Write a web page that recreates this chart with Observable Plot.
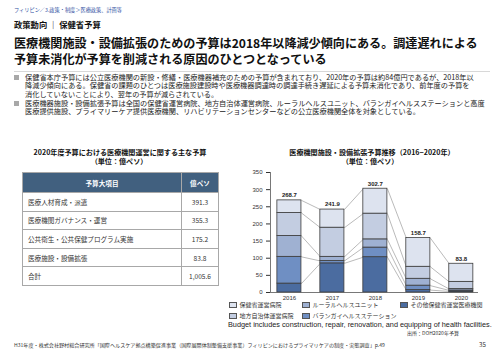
<!DOCTYPE html>
<html><head><meta charset="utf-8">
<script src="https://cdn.jsdelivr.net/npm/d3@7"></script>
<script src="https://cdn.jsdelivr.net/npm/@observablehq/plot@0.6"></script>
<style>
body{margin:0;background:#fff;}
#page{position:relative;width:500px;height:353px;overflow:hidden;font-family:"Noto Sans CJK JP","Noto Sans",sans-serif;color:#111;}
.a{position:absolute;white-space:nowrap;}
#tbl{position:absolute;left:22px;top:172px;width:196px;border-collapse:collapse;table-layout:fixed;font-size:6.6px;color:#333;}
#tbl td,#tbl th{border:1px solid #a8a8a8;padding:0;}
#tbl th{background:#41607f;color:#fff;font-weight:700;height:19px;text-align:center;}
#tbl td{height:17.6px;}
#tbl td.l{padding-left:5px;}
#tbl td.r{text-align:center;}
.box{position:absolute;width:8px;height:6px;border:0.8px solid #555;box-sizing:border-box;}
</style></head><body><div id="page"></div>
<script>
// ---- data ----
const years = [2016, 2017, 2018, 2019, 2020];
const categories = ["その他保健省運営医療機関", "バランガイヘルスステーション", "ルーラルヘルスユニット", "地方自治体運営病院", "保健省運営病院"];
const otherDOH = [26, 85, 103, 7, 3];
const barangay = [78, 7, 28, 13, 3];
const rural = [61, 12, 24, 20, 4];
const lgu = [67, 85, 75, 35, 21];
const dohHosp = [36.7, 52.9, 72.7, 83.7, 52.8];
const totals = [268.7, 241.9, 302.7, 158.7, 83.8];
const colors = ["#4b6ca0", "#6f8fc3", "#9fb1d2", "#c3cde1", "#dde3ef"];

const tableHeader = ["予算大項目", "億ペソ"];
const tableItems = ["医療人材育成・派遣", "医療機関ガバナンス・運営", "公共衛生・公共保健プログラム実施", "医療施設・設備拡張", "合計"];
const tableValues = ["391.3", "355.3", "175.2", "83.8", "1,005.6"];

const bullets = [
  ["保健省本庁予算には公立医療機関の新設・修繕・医療機器補充のための予算が含まれており、2020年の予算は約84億円であるが、2018年以",
   "降減少傾向にある。保健省の課題のひとつは医療施設建設時や医療機器調達時の調達手続き遅延による予算未消化であり、前年度の予算を",
   "消化していないことにより、翌年の予算が減らされている。"],
  ["医療機器施設・設備拡張予算は全国の保健省運営病院、地方自治体運営病院、ルーラルヘルスユニット、バランガイヘルスステーションと高度",
   "医療提供施設、プライマリーケア提供医療機関、リハビリテーションセンターなどの公立医療機関全体を対象としている。"]
];

// ---- layout helpers ----
const page = document.getElementById("page");
function txt(s, left, cy, size, opts = {}) {
  const d = document.createElement("div");
  d.className = "a";
  d.textContent = s;
  const lh = size * 1.3;
  d.style.fontSize = size + "px";
  d.style.lineHeight = lh + "px";
  d.style.top = (cy - lh / 2) + "px";
  if (opts.center) { d.style.left = (left - 200) + "px"; d.style.width = "400px"; d.style.textAlign = "center"; }
  else d.style.left = left + "px";
  if (opts.bold) d.style.fontWeight = "700";
  if (opts.color) d.style.color = opts.color;
  if (opts.font) d.style.fontFamily = opts.font;
  if (opts.ls) d.style.letterSpacing = opts.ls;
  page.appendChild(d);
  return d;
}

txt("フィリピン／3.政策・制度＞医療政策、計画等", 14, 10, 5.2, {color: "#2f4f9f"});
txt("政策動向 ｜ 保健省予算", 14, 24, 8.3, {bold: true});
txt("医療機関施設・設備拡張のための予算は2018年以降減少傾向にある。調達遅れによる", 14, 42.5, 12.1, {bold: true});
txt("予算未消化が予算を削減される原因のひとつとなっている", 14, 58.5, 12.1, {bold: true});
const sep = document.createElement("div");
sep.style.cssText = "position:absolute;left:14px;top:71px;width:476px;height:1px;background:#d8d8d8;";
page.appendChild(sep);

const lineCenters = [[77.3, 85.8, 94.3], [103.5, 112]];
bullets.forEach((b, i) => {
  const m = document.createElement("div");
  m.style.cssText = `position:absolute;left:14px;top:${lineCenters[i][0] - 2.5}px;width:5px;height:5px;background:#a8a8a8;`;
  page.appendChild(m);
  b.forEach((l, j) => txt(l, 25, lineCenters[i][j], 7.2, {color: "#222"}));
});

// table
txt("2020年度予算における医療機関運営に関する主な予算", 120, 153, 7.1, {bold: true, center: true});
txt("（単位：億ペソ）", 119, 162, 7.1, {bold: true, center: true});
const tbl = document.createElement("table");
tbl.id = "tbl";
let html = `<colgroup><col style="width:159px"><col style="width:37px"></colgroup><tr><th>${tableHeader[0]}</th><th>${tableHeader[1]}</th></tr>`;
tableItems.forEach((it, i) => { html += `<tr><td class="l">${it}</td><td class="r">${tableValues[i]}</td></tr>`; });
tbl.innerHTML = html;
page.appendChild(tbl);

// chart title
txt("医療機関施設・設備拡張予算推移（2016−2020年）", 372, 153, 7.1, {bold: true, center: true});
txt("（単位：億ペソ）", 370, 162, 7.1, {bold: true, center: true});

// chart data
const seriesVals = [otherDOH, barangay, rural, lgu, dohHosp];
const hw = 0.28;
const stacked = [];
const cum = years.map(() => [0]);
years.forEach((yr, i) => {
  let c = 0;
  seriesVals.forEach((s, k) => {
    stacked.push({year: yr, cat: categories[k], y1: c, y2: c + s[i]});
    c += s[i];
    cum[i].push(c);
  });
});
const links = [];
for (let i = 0; i < years.length - 1; i++) {
  for (let k = 1; k <= categories.length; k++) {
    links.push({x1: years[i] + hw, x2: years[i + 1] - hw, y1: cum[i][k], y2: cum[i + 1][k]});
  }
}
const x0 = 2015.56;
const chart = Plot.plot({
  width: 250, height: 142,
  marginLeft: 30, marginRight: 12, marginTop: 7, marginBottom: 15,
  x: {type: "linear", domain: [x0, 2020.4], ticks: 5, tickFormat: "d", tickSize: 0, tickPadding: 3, label: null},
  y: {domain: [0, 350], ticks: 7, tickSize: 4, tickPadding: 4, label: null},
  color: {domain: categories, range: colors},
  style: {fontFamily: "'Liberation Sans', Arial, sans-serif", fontSize: "6px", color: "#333", background: "transparent"},
  marks: [
    Plot.link(links, {x1: "x1", y1: "y1", x2: "x2", y2: "y2", stroke: "#8c8c8c", strokeWidth: 0.6}),
    Plot.rect(stacked, {x1: d => d.year - hw, x2: d => d.year + hw, y1: "y1", y2: "y2", fill: "cat", stroke: "#3c3c3c", strokeWidth: 0.8}),
    Plot.ruleY([0], {stroke: "#555", strokeWidth: 0.8}),
    Plot.ruleX([x0], {y1: 0, y2: 350, stroke: "#555", strokeWidth: 0.8}),
    Plot.text(years.map((y, i) => ({year: y, total: totals[i]})), {x: "year", y: "total", text: d => d.total.toFixed(1), dy: -5, fontWeight: "bold", fill: "#222"})
  ]
});
chart.style.position = "absolute";
chart.style.left = "240px";
chart.style.top = "165px";
page.appendChild(chart);

// legend
const legendPos = [[229, 305, 4], [302, 305, 2], [400, 305, 0], [229, 315.7, 3], [302, 315.7, 1]];
legendPos.forEach(([lx, ly, k]) => {
  const b = document.createElement("div");
  b.className = "box";
  b.style.left = lx + "px"; b.style.top = (ly - 3) + "px"; b.style.background = colors[k];
  page.appendChild(b);
  txt(categories[k], lx + 10.5, ly, 6, {color: "#333"});
});

txt("Budget includes construction, repair, renovation, and equipping of health facilities.", 228, 324.5, 7.3, {font: "'Liberation Sans', Arial, sans-serif", color: "#222"});
txt("出所：DOH2020年予算", 407, 333, 5, {color: "#333"});
txt("H31年度・株式会社野村総合研究所「国際ヘルスケア拠点構築促進事業（国際展開体制整備支援事業）フィリピンにおけるプライマリケアの制度・実態調査」p.49", 14, 345, 5.1, {color: "#333"});
txt("35", 479, 345, 6.2, {color: "#333"});
</script>
</body></html>
